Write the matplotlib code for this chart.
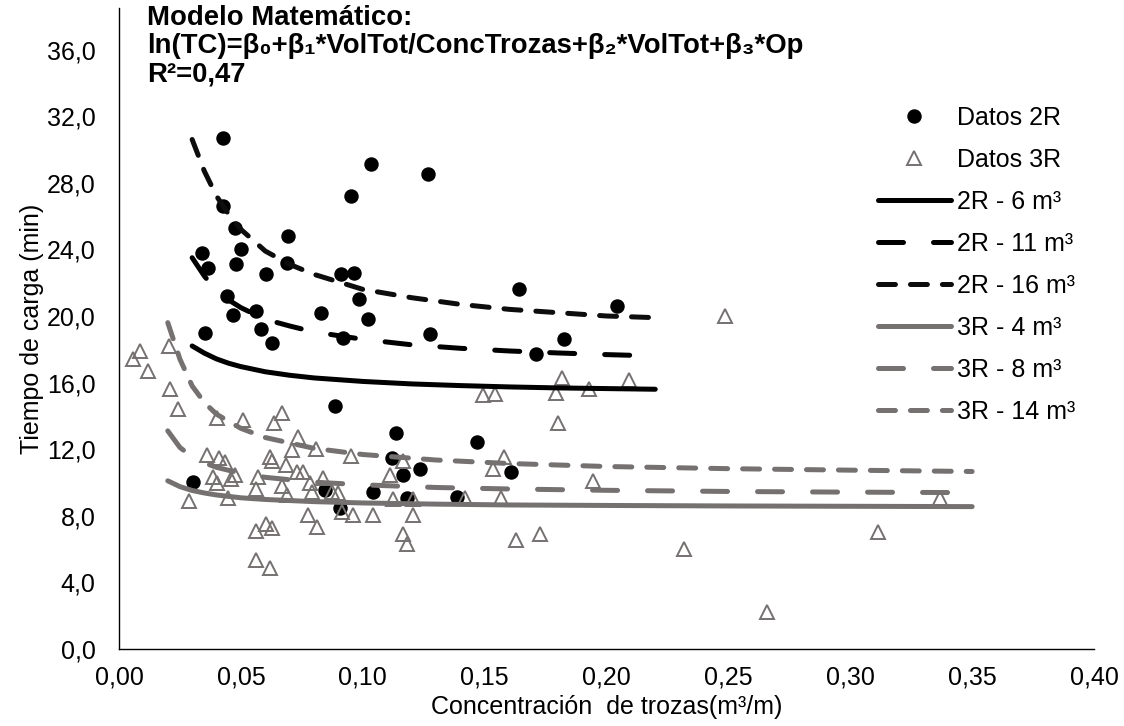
import matplotlib.pyplot as plt
from matplotlib.ticker import FuncFormatter

plt.rcParams['font.family'] = ['Liberation Sans', 'DejaVu Sans']
plt.rcParams['lines.scale_dashes'] = False

# ── Observed data ─────────────────────────────────────────────────────────────
x_2r = [0.0425, 0.1033, 0.1267, 0.0951, 0.0428, 0.0476, 0.0692, 0.0339, 0.0499,
        0.0367, 0.0480, 0.0603, 0.0688, 0.0910, 0.0962, 0.1639, 0.0442, 0.0984,
        0.0466, 0.0562, 0.0829, 0.1023, 0.0581, 0.0628, 0.0918, 0.1276, 0.0353,
        0.0886, 0.1137, 0.1470, 0.0305, 0.1235, 0.1607, 0.1163, 0.1119, 0.1040,
        0.1183, 0.1386, 0.0845, 0.0907, 0.2042, 0.1826, 0.1711]
y_2r = [30.7, 29.15, 28.5, 27.2, 26.6, 25.3, 24.8, 23.8, 24.0,
        22.9, 23.1, 22.5, 23.2, 22.5, 22.6, 21.6, 21.2, 21.0,
        20.05, 20.3, 20.2, 19.8, 19.2, 18.4, 18.7, 18.9, 19.0,
        14.6, 12.96, 12.46, 10.0, 10.8, 10.6, 10.46, 11.45, 9.4,
        9.05, 9.1, 9.55, 8.45, 20.6, 18.6, 17.7]

x_3r = [0.0056, 0.0086, 0.0120, 0.0206, 0.0209, 0.0243, 0.0401, 0.0508, 0.0636,
        0.0670, 0.0733, 0.0709, 0.0808, 0.0952, 0.1167, 0.1581, 0.1533, 0.1495,
        0.1543, 0.0362, 0.0412, 0.0435, 0.0476, 0.0384, 0.0401, 0.0458, 0.0620,
        0.0627, 0.0685, 0.0572, 0.0668, 0.0562, 0.0729, 0.0756, 0.0784, 0.0836,
        0.0791, 0.0875, 0.0900, 0.1112, 0.0289, 0.0449, 0.0688, 0.0777, 0.0814,
        0.0914, 0.0959, 0.1040, 0.1208, 0.1123, 0.1208, 0.1420, 0.1566, 0.1167,
        0.1183, 0.0562, 0.0603, 0.0627, 0.0562, 0.0620, 0.1629, 0.1728, 0.1799,
        0.1946, 0.2488, 0.1817, 0.1793, 0.1930, 0.2093, 0.2318, 0.3112, 0.3369,
        0.2660]
y_3r = [17.4, 17.9, 16.7, 18.2, 15.6, 14.4, 13.9, 13.75, 13.6,
        14.2, 12.76, 11.96, 12.0, 11.6, 11.3, 11.56, 10.8, 15.26,
        15.3, 11.66, 11.46, 11.26, 10.46, 10.3, 9.96, 10.2, 11.56,
        11.3, 11.06, 10.3, 9.76, 9.6, 10.6, 10.6, 9.96, 10.26,
        9.4, 9.45, 9.36, 10.46, 8.9, 9.05, 9.25, 8.05, 7.35,
        8.2, 8.05, 8.05, 8.05, 9.0, 9.0, 9.05, 9.05, 6.9,
        6.3, 7.1, 7.5, 7.25, 5.35, 4.85, 6.55, 6.9, 13.6,
        10.1, 20.0, 16.27, 15.37, 15.6, 16.17, 6.0, 7.05, 9.05,
        2.2]

# ── Model curves ──────────────────────────────────────────────────────────────
x_fit_2r = [0.03, 0.035, 0.04, 0.045, 0.05, 0.06, 0.07, 0.08, 0.10, 0.12,
            0.14, 0.16, 0.18, 0.20, 0.22]
y_2r_6 = [18.2, 17.77, 17.42, 17.16, 16.96, 16.65, 16.44, 16.28, 16.07, 15.92,
          15.82, 15.74, 15.68, 15.64, 15.6]
y_2r_11 = [23.5, 22.4, 21.5, 20.96, 20.5, 19.8, 19.4, 19.04, 18.6, 18.27,
           18.06, 17.9, 17.78, 17.68, 17.6]
y_2r_16 = [30.6, 28.7, 27.2, 26.1, 25.2, 23.9, 23.1, 22.5, 21.6, 21.1,
           20.7, 20.4, 20.2, 20.0, 19.9]

x_fit_3r = [0.02, 0.025, 0.03, 0.035, 0.04, 0.05, 0.06, 0.08, 0.10, 0.13,
            0.16, 0.20, 0.25, 0.30, 0.35]
y_3r_4 = [10.1, 9.75, 9.52, 9.37, 9.25, 9.08, 8.98, 8.85, 8.77, 8.70,
          8.65, 8.62, 8.59, 8.57, 8.55]
y_3r_8 = [13.1, 12.1, 11.54, 11.18, 10.91, 10.55, 10.31, 10.02, 9.86, 9.70,
          9.61, 9.53, 9.46, 9.42, 9.39]
y_3r_14 = [19.6, 17.4, 15.8, 14.8, 14.1, 13.25, 12.7, 12.05, 11.68, 11.35,
           11.14, 10.96, 10.83, 10.74, 10.66]

black = '#000000'
gray = '#767171'
long_dash = (0, (18, 21.6))
short_dash = (0, (12.2, 10.8))

fig = plt.figure(figsize=(11.24, 7.26), dpi=100)
ax = fig.add_axes([0.1059, 0.1061, 0.8674, 0.8829])

# scatter series first, model lines drawn over them (Excel order)
ax.plot(x_2r, y_2r, 'o', color=black, markersize=9.4, linestyle='none',
        label='Datos 2R', zorder=2)
ax.plot(x_3r, y_3r, '^', markerfacecolor='none', markeredgecolor=gray,
        markeredgewidth=1.4, markersize=9.5, linestyle='none',
        label='Datos 3R', zorder=2)

kw = dict(linewidth=3.6, solid_capstyle='round', dash_capstyle='round', zorder=3)
ax.plot(x_fit_2r, y_2r_6, color=black, linestyle='-', label='2R - 6 m³', **kw)
ax.plot(x_fit_2r, y_2r_11, color=black, linestyle=long_dash, label='2R - 11 m³', **kw)
ax.plot(x_fit_2r, y_2r_16, color='#0d0d0d', linestyle=short_dash, label='2R - 16 m³', **kw)
ax.plot(x_fit_3r, y_3r_4, color=gray, linestyle='-', label='3R - 4 m³', **kw)
ax.plot(x_fit_3r, y_3r_8, color=gray, linestyle=long_dash, label='3R - 8 m³', **kw)
ax.plot(x_fit_3r, y_3r_14, color=gray, linestyle=short_dash, label='3R - 14 m³', **kw)

ax.set_xlim(0, 0.40)
ax.set_ylim(0, 38.5)
ax.set_xticks([0.00, 0.05, 0.10, 0.15, 0.20, 0.25, 0.30, 0.35, 0.40])
ax.set_yticks([0, 4, 8, 12, 16, 20, 24, 28, 32, 36])
ax.xaxis.set_major_formatter(FuncFormatter(lambda v, p: f'{v:.2f}'.replace('.', ',')))
ax.yaxis.set_major_formatter(FuncFormatter(lambda v, p: f'{v:.1f}'.replace('.', ',')))
ax.tick_params(axis='both', length=0, labelsize=18)
ax.tick_params(axis='y', pad=17)
ax.tick_params(axis='x', pad=12)

for s in ['top', 'right']:
    ax.spines[s].set_visible(False)
for s in ['left', 'bottom']:
    ax.spines[s].set_linewidth(1.0)
    ax.spines[s].set_color('#000000')

ax.set_xlabel('Concentración  de trozas(m³/m)', fontsize=18, labelpad=4)
ax.set_ylabel('Tiempo de carga (min)', fontsize=18, labelpad=2)

fig.text(147 / 1124, 1 - 5 / 726,
         'Modelo Matemático:\nln(TC)=β₀+β₁*VolTot/ConcTrozas+β₂*VolTot+β₃*Op\nR²=0,47',
         fontsize=19.8, fontweight='bold', ha='left', va='top', linespacing=1.12)

ax.legend(loc='upper left', bbox_to_anchor=(878 / 1124, 1 - 106 / 726),
          bbox_transform=fig.transFigure, frameon=False, fontsize=18,
          handlelength=2.9, handletextpad=0.25, labelspacing=0.72, borderpad=0,
          borderaxespad=0)

fig.savefig('out.png', dpi=100)
